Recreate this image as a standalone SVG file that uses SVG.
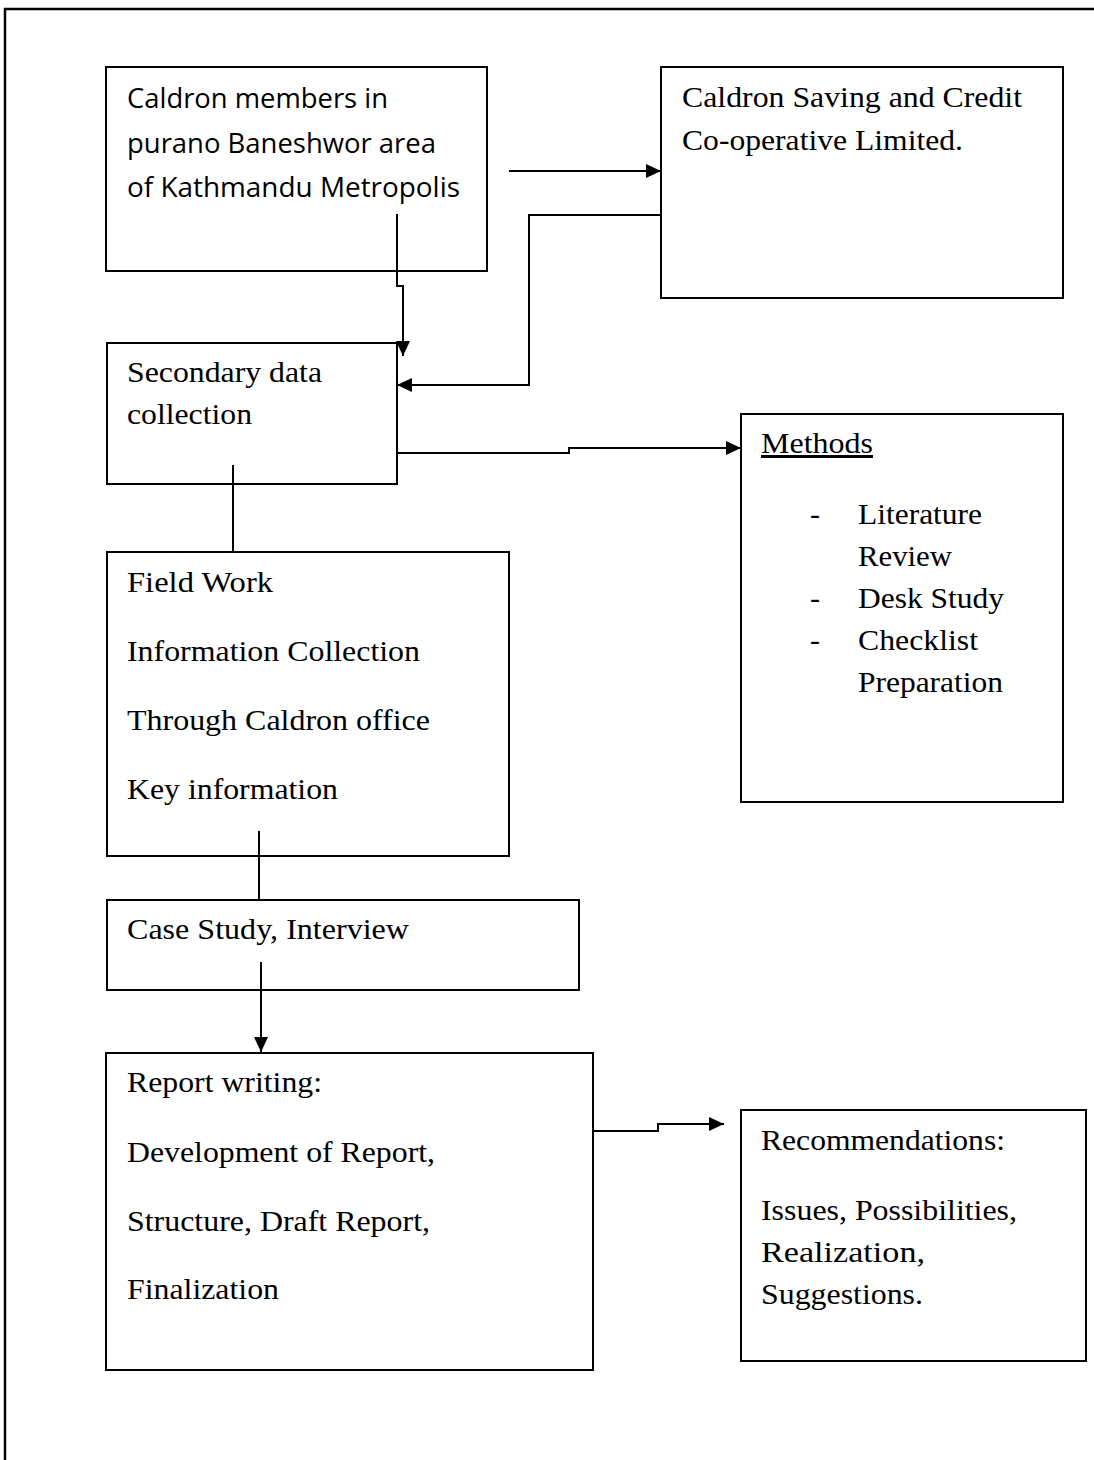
<svg xmlns="http://www.w3.org/2000/svg" width="1094" height="1460" viewBox="0 0 1094 1460">
<style>
.box{fill:#fff;stroke:#000;stroke-width:2}
.frame{fill:none;stroke:#000;stroke-width:2.5}
.conn{fill:none;stroke:#000;stroke-width:2}
.s{font-family:"Open Sans","Noto Sans",sans-serif;font-size:28px;fill:#000}
.t{font-family:"Liberation Serif","Times New Roman",serif;font-size:30px;fill:#000}
</style>
<defs>
<marker id="ah" markerUnits="userSpaceOnUse" markerWidth="16" markerHeight="14" refX="15" refY="7" orient="auto">
<path d="M0,0 L15,7 L0,14 z" fill="#000"/>
</marker>
</defs>
<rect width="1094" height="1460" fill="#fff"/>
<path class="frame" d="M5,1460 V9 H1094"/>

<g id="node-members">
<rect class="box" x="106" y="67" width="381" height="204"/>
<text class="s" x="127" y="108" textLength="261" lengthAdjust="spacingAndGlyphs">Caldron members in</text>
<text class="s" x="127" y="153" textLength="309" lengthAdjust="spacingAndGlyphs">purano Baneshwor area</text>
<text class="s" x="127" y="197" textLength="333" lengthAdjust="spacingAndGlyphs">of Kathmandu Metropolis</text>
</g>

<g id="node-cooperative">
<rect class="box" x="661" y="67" width="402" height="231"/>
<text class="t" x="682" y="107" textLength="340" lengthAdjust="spacingAndGlyphs">Caldron Saving and Credit</text>
<text class="t" x="682" y="150" textLength="281" lengthAdjust="spacingAndGlyphs">Co-operative Limited.</text>
</g>

<g id="node-secondary">
<rect class="box" x="107" y="343" width="290" height="141"/>
<text class="t" x="127" y="382" textLength="195" lengthAdjust="spacingAndGlyphs">Secondary data</text>
<text class="t" x="127" y="424" textLength="125" lengthAdjust="spacingAndGlyphs">collection</text>
</g>

<g id="node-methods">
<rect class="box" x="741" y="414" width="322" height="388"/>
<text class="t" x="761" y="453" textLength="112" lengthAdjust="spacingAndGlyphs" text-decoration="underline">Methods</text>
<text class="t" x="810" y="524">-</text>
<text class="t" x="858" y="524" textLength="124" lengthAdjust="spacingAndGlyphs">Literature</text>
<text class="t" x="858" y="566" textLength="94" lengthAdjust="spacingAndGlyphs">Review</text>
<text class="t" x="810" y="608">-</text>
<text class="t" x="858" y="608" textLength="146" lengthAdjust="spacingAndGlyphs">Desk Study</text>
<text class="t" x="810" y="650">-</text>
<text class="t" x="858" y="650" textLength="120" lengthAdjust="spacingAndGlyphs">Checklist</text>
<text class="t" x="858" y="692" textLength="145" lengthAdjust="spacingAndGlyphs">Preparation</text>
</g>

<g id="node-fieldwork">
<rect class="box" x="107" y="552" width="402" height="304"/>
<text class="t" x="127" y="592" textLength="146" lengthAdjust="spacingAndGlyphs">Field Work</text>
<text class="t" x="127" y="661" textLength="293" lengthAdjust="spacingAndGlyphs">Information Collection</text>
<text class="t" x="127" y="730" textLength="303" lengthAdjust="spacingAndGlyphs">Through Caldron office</text>
<text class="t" x="127" y="799" textLength="211" lengthAdjust="spacingAndGlyphs">Key information</text>
</g>

<g id="node-casestudy">
<rect class="box" x="107" y="900" width="472" height="90"/>
<text class="t" x="127" y="939" textLength="282" lengthAdjust="spacingAndGlyphs">Case Study, Interview</text>
</g>

<g id="node-report">
<rect class="box" x="106" y="1053" width="487" height="317"/>
<text class="t" x="127" y="1092" textLength="195" lengthAdjust="spacingAndGlyphs">Report writing:</text>
<text class="t" x="127" y="1162" textLength="308" lengthAdjust="spacingAndGlyphs">Development of Report,</text>
<text class="t" x="127" y="1231" textLength="303" lengthAdjust="spacingAndGlyphs">Structure, Draft Report,</text>
<text class="t" x="127" y="1299" textLength="152" lengthAdjust="spacingAndGlyphs">Finalization</text>
</g>

<g id="node-recommendations">
<rect class="box" x="741" y="1110" width="345" height="251"/>
<text class="t" x="761" y="1150" textLength="244" lengthAdjust="spacingAndGlyphs">Recommendations:</text>
<text class="t" x="761" y="1220" textLength="256" lengthAdjust="spacingAndGlyphs">Issues, Possibilities,</text>
<text class="t" x="761" y="1262" textLength="164" lengthAdjust="spacingAndGlyphs">Realization,</text>
<text class="t" x="761" y="1304" textLength="162" lengthAdjust="spacingAndGlyphs">Suggestions.</text>
</g>

<g id="connectors">
<path class="conn" d="M509,171 H661" marker-end="url(#ah)"/>
<path class="conn" d="M661,215 H529 V385 H397" marker-end="url(#ah)"/>
<path class="conn" d="M397,214 V286 H403 V356" marker-end="url(#ah)"/>
<path class="conn" d="M397,453 H569 V448 H741" marker-end="url(#ah)"/>
<path class="conn" d="M233,465 V552"/>
<path class="conn" d="M259,831 V900"/>
<path class="conn" d="M261,962 V1052" marker-end="url(#ah)"/>
<path class="conn" d="M593,1131 H658 V1124 H724" marker-end="url(#ah)"/>
</g>
</svg>
